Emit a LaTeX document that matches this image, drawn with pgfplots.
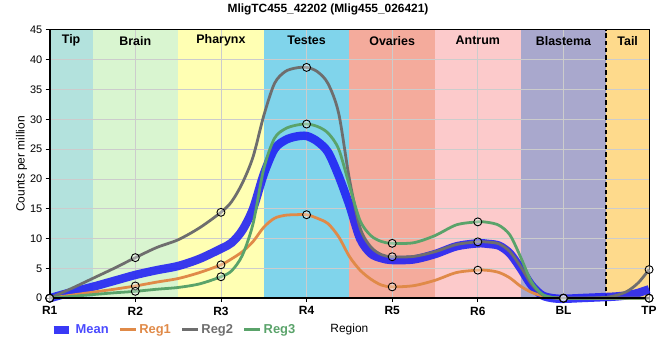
\documentclass[border=0pt]{standalone}
\usepackage{pgfplots}
\pgfplotsset{compat=1.18}
\usepackage{fontspec}
\setmainfont{Liberation Sans}
\definecolor{cTip}{HTML}{B3E2DD}
\definecolor{cBrain}{HTML}{D9F5D0}
\definecolor{cPhar}{HTML}{FFFFB3}
\definecolor{cTest}{HTML}{80D4EB}
\definecolor{cOva}{HTML}{F4AB9C}
\definecolor{cAnt}{HTML}{FCCACB}
\definecolor{cBla}{HTML}{A9A8CD}
\definecolor{cTail}{HTML}{FEDA8C}
\definecolor{cMean}{HTML}{1E1EF5}
\definecolor{cMeanT}{HTML}{4A4AFF}
\definecolor{cReg1}{HTML}{E08A48}
\definecolor{cReg2}{HTML}{6E6E6E}
\definecolor{cReg3}{HTML}{5AA36A}
\definecolor{gridc}{HTML}{CCCCCC}
\pgfplotsset{mk/.style={only marks, mark=*, mark size=4pt, mark options={draw=black, line width=0.9pt, fill=white, fill opacity=0.35}, forget plot}}
\begin{document}
\begin{tikzpicture}
\begin{axis}[
  set layers,
  scale only axis, width=603pt, height=270pt,
  xmin=0, xmax=7, ymin=0, ymax=45,
  clip=false,
  xtick={0,1,2,3,4,5,6,7},
  xticklabels={R1,R2,R3,R4,R5,R6,BL,TP},
  ytick={0,5,10,15,20,25,30,35,40,45},
  grid=major, grid style={color=gridc, line width=0.7pt},
  axis line style={black, line width=0.8pt},
  tick style={black, line width=0.9pt},
  major tick length=4pt, tick align=outside,
  xtick pos=bottom, ytick pos=left,
  xticklabel style={font=\bfseries\fontsize{12}{14}\selectfont, yshift=-1pt},
  yticklabel style={font=\fontsize{11}{13}\selectfont},
  /pgf/number format/assume math mode=true,
  xlabel={Region},
  xlabel style={at={(axis description cs:0.5,-0.115)}, anchor=center, font=\fontsize{12}{14}\selectfont},
  ylabel={Counts per million},
  ylabel style={at={(axis description cs:-0.047,0.5)}, anchor=center, font=\fontsize{12}{14}\selectfont},
  legend columns=4,
  legend style={at={(axis description cs:-0.006,-0.118)}, anchor=west, draw=none, fill=none,
    font=\bfseries\fontsize{13}{15}\selectfont,
    nodes={inner xsep=2pt},
    /tikz/every even column/.append style={column sep=8pt}},
  legend image code/.code={\draw[#1] (0pt,0pt) -- (16pt,0pt);},
  legend cell align=left,
]
% region bands
\addplot[on layer=axis background, draw=none, fill=cTip, forget plot] coordinates {(0,45) (0.5,45)} \closedcycle;
\addplot[on layer=axis background, draw=none, fill=cBrain, forget plot] coordinates {(0.5,45) (1.5,45)} \closedcycle;
\addplot[on layer=axis background, draw=none, fill=cPhar, forget plot] coordinates {(1.5,45) (2.5,45)} \closedcycle;
\addplot[on layer=axis background, draw=none, fill=cTest, forget plot] coordinates {(2.5,45) (3.5,45)} \closedcycle;
\addplot[on layer=axis background, draw=none, fill=cOva, forget plot] coordinates {(3.5,45) (4.5,45)} \closedcycle;
\addplot[on layer=axis background, draw=none, fill=cAnt, forget plot] coordinates {(4.5,45) (5.5,45)} \closedcycle;
\addplot[on layer=axis background, draw=none, fill=cBla, forget plot] coordinates {(5.5,45) (6.5,45)} \closedcycle;
\addplot[on layer=axis background, draw=none, fill=cTail, forget plot] coordinates {(6.5,45) (7,45)} \closedcycle;
% dashed separator
\addplot[black, line width=1.8pt, dash pattern=on 4.5pt off 3pt, forget plot] coordinates {(6.5,-1.3) (6.5,45)};
% curves
\addplot[cMean, line width=8.5pt, opacity=0.88, smooth, tension=0.5] coordinates {
(0,0) (0.25,1.0) (0.5,1.9) (0.75,2.9) (1,3.9) (1.25,4.7) (1.5,5.4) (1.75,6.6) (2,8.3)
(2.125,9.3) (2.25,11.4) (2.375,15) (2.5,20.8) (2.625,25) (2.75,26.5) (2.875,27.1) (3,27.2)
(3.125,26.3) (3.25,24.5) (3.375,20.5) (3.5,15.6) (3.625,10) (3.75,7.5) (3.875,6.7) (4,6.4)
(4.25,6.5) (4.5,7.4) (4.75,8.7) (5,9.2) (5.125,9.1) (5.25,8.8) (5.375,7.5) (5.5,5.0) (5.625,2.2) (5.75,0.5) (5.875,0) (6,-0.1)
(6.25,0.05) (6.5,0.2) (6.625,0.3) (6.75,0.5) (6.875,0.9) (7,1.5)};
\addlegendentry{\textcolor{cMeanT}{Mean}}
\addplot[cReg1, line width=2.8pt, smooth, tension=0.5] coordinates {
(0,0) (0.25,0.5) (0.5,1.0) (0.75,1.5) (1,2.05) (1.25,2.7) (1.5,3.3) (1.75,4.3) (2,5.6)
(2.125,6.6) (2.25,7.8) (2.375,9.5) (2.5,11.9) (2.625,13.4) (2.75,13.9) (2.875,14) (3,14)
(3.125,13.4) (3.25,12.5) (3.375,10.3) (3.5,7) (3.625,4.7) (3.75,3.2) (3.875,2.2) (4,1.9)
(4.25,2.1) (4.5,3.0) (4.75,4.3) (5,4.7) (5.125,4.65) (5.25,4.3) (5.375,3.4) (5.5,2.0) (5.625,1.0) (5.75,0.4) (5.875,0.1) (6,0)
(6.25,0) (6.5,0) (6.75,0) (7,0)};
\addlegendentry{\textcolor{cReg1}{Reg1}}
\addplot[cReg2, line width=2.8pt, smooth, tension=0.5] coordinates {
(0,0) (0.25,1.6) (0.5,3.3) (0.75,5.0) (1,6.8) (1.25,8.5) (1.5,9.8) (1.75,11.8) (2,14.4)
(2.125,16.2) (2.25,19.3) (2.375,23.7) (2.5,30.6) (2.625,36) (2.75,38) (2.875,38.6) (3,38.7)
(3.125,38) (3.25,36) (3.375,31) (3.5,20) (3.625,11.8) (3.75,8.6) (3.875,7.3) (4,6.95)
(4.25,7.0) (4.5,7.8) (4.75,9.0) (5,9.45) (5.125,9.4) (5.25,9.1) (5.375,7.8) (5.5,5.3) (5.625,2.4) (5.75,0.6) (5.875,0.1) (6,0)
(6.25,0) (6.5,0.15) (6.625,0.5) (6.75,1.2) (6.875,2.6) (7,4.8)};
\addlegendentry{\textcolor{cReg2}{Reg2}}
\addplot[cReg3, line width=2.8pt, smooth, tension=0.5] coordinates {
(0,0) (0.25,0.3) (0.5,0.6) (0.75,0.9) (1,1.15) (1.25,1.5) (1.5,1.8) (1.75,2.4) (2,3.6)
(2.125,4.6) (2.25,7.2) (2.375,12.5) (2.5,21.7) (2.625,26.8) (2.75,28.4) (2.875,29) (3,29.2)
(3.125,28.8) (3.25,27.7) (3.375,25) (3.5,18.9) (3.625,13) (3.75,10.5) (3.875,9.5) (4,9.2)
(4.25,9.3) (4.5,10.5) (4.75,12.3) (5,12.8) (5.125,12.7) (5.25,12.2) (5.375,10.6) (5.5,6.9) (5.625,2.8) (5.75,0.7) (5.875,0.1) (6,0)
(6.25,0) (6.5,0) (6.75,0) (7,0)};
\addlegendentry{\textcolor{cReg3}{Reg3}}
% markers
\addplot[mk] coordinates {(0,0) (1,2.05) (2,5.6) (3,14) (4,1.9) (5,4.7) (6,0) (7,0)};
\addplot[mk] coordinates {(0,0) (1,6.8) (2,14.4) (3,38.7) (4,6.95) (5,9.45) (6,0) (7,4.8)};
\addplot[mk] coordinates {(0,0) (1,1.15) (2,3.6) (3,29.2) (4,9.2) (5,12.8) (6,0) (7,0)};
% region labels
\node[font=\bfseries\fontsize{12.5}{14}\selectfont] at (axis cs:0.25,43.2) {Tip};
\node[font=\bfseries\fontsize{12.5}{14}\selectfont] at (axis cs:1,43.2) {Brain};
\node[font=\bfseries\fontsize{12.5}{14}\selectfont] at (axis cs:2,43.2) {Pharynx};
\node[font=\bfseries\fontsize{12.5}{14}\selectfont] at (axis cs:3,43.2) {Testes};
\node[font=\bfseries\fontsize{12.5}{14}\selectfont] at (axis cs:4,43.2) {Ovaries};
\node[font=\bfseries\fontsize{12.5}{14}\selectfont] at (axis cs:5,43.2) {Antrum};
\node[font=\bfseries\fontsize{12.5}{14}\selectfont] at (axis cs:6,43.2) {Blastema};
\node[font=\bfseries\fontsize{12.5}{14}\selectfont] at (axis cs:6.75,43.2) {Tail};
\draw[black, line width=2pt, line cap=rect] (rel axis cs:0,1) -- (rel axis cs:0,0) -- (rel axis cs:1,0);
\end{axis}
\node[font=\bfseries\fontsize{12}{14}\selectfont] at (280pt,290pt) {MligTC455\_42202 (Mlig455\_026421)};
\path (-50pt,-60pt) rectangle (610pt,300pt);
\end{tikzpicture}
\end{document}
